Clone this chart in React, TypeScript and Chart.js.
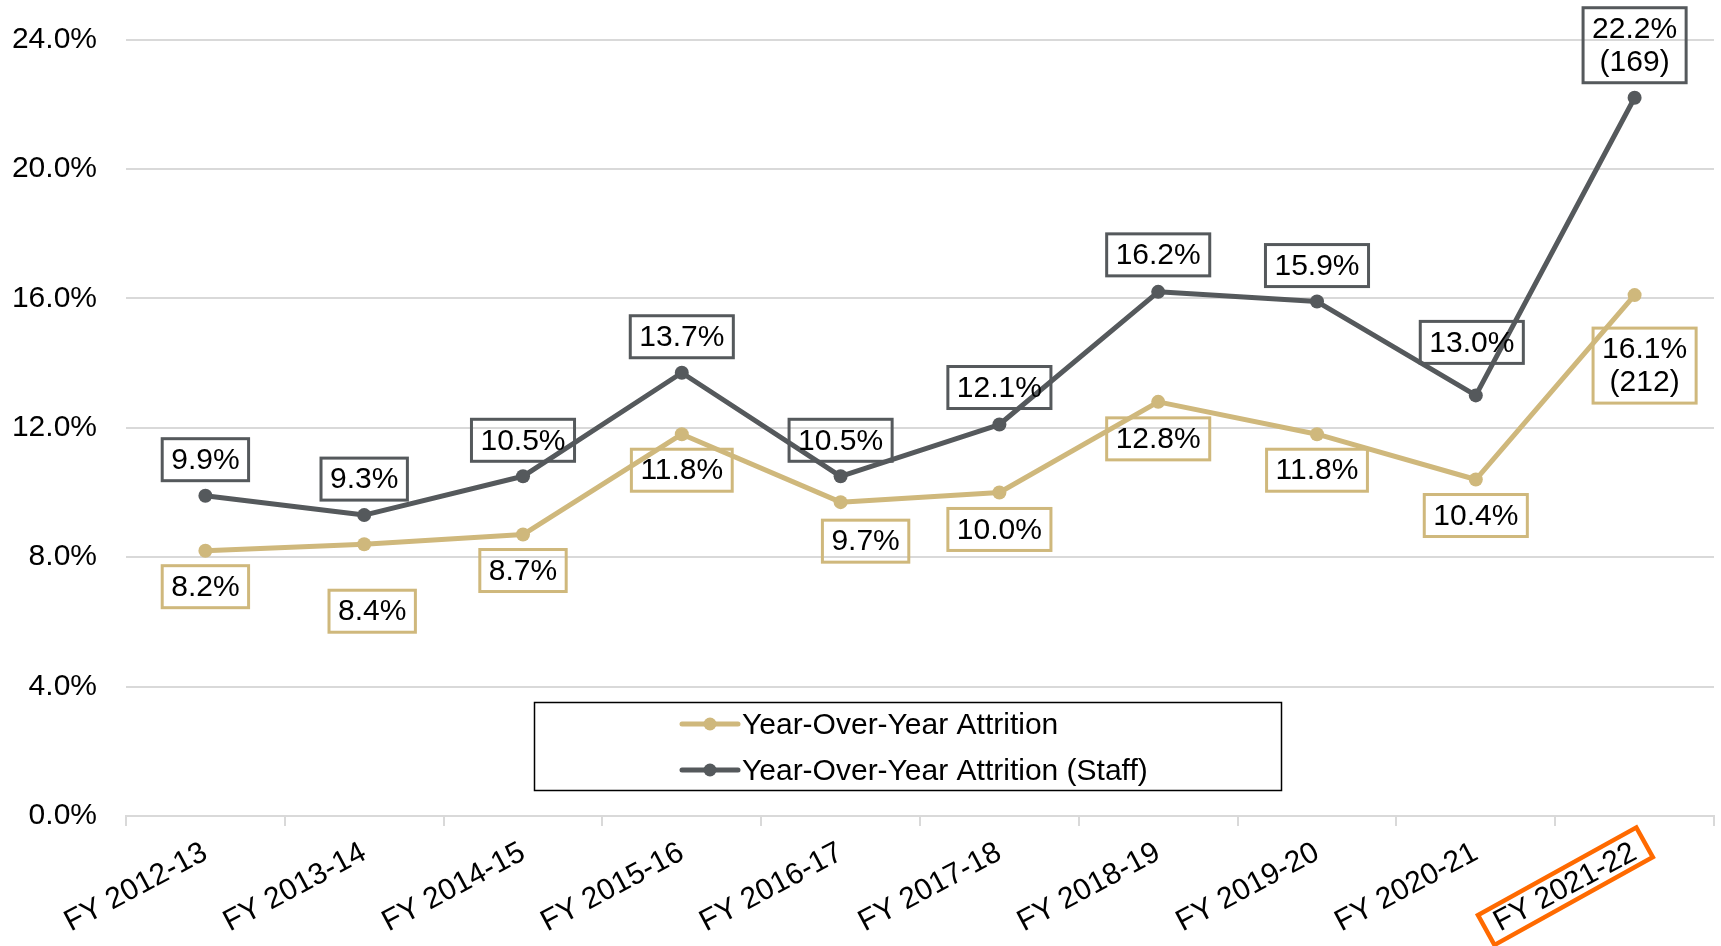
import React, { useEffect, useRef } from 'react';
import { Chart, registerables } from 'chart.js';

Chart.register(...registerables);

// ---------- data ----------
const categories = [
  'FY 2012-13', 'FY 2013-14', 'FY 2014-15', 'FY 2015-16', 'FY 2016-17',
  'FY 2017-18', 'FY 2018-19', 'FY 2019-20', 'FY 2020-21', 'FY 2021-22',
];
const attritionAll = [8.2, 8.4, 8.7, 11.8, 9.7, 10.0, 12.8, 11.8, 10.4, 16.1];
const attritionStaff = [9.9, 9.3, 10.5, 13.7, 10.5, 12.1, 16.2, 15.9, 13.0, 22.2];
const countsAll: (number | null)[] = [null, null, null, null, null, null, null, null, null, 212];
const countsStaff: (number | null)[] = [null, null, null, null, null, null, null, null, null, 169];
const yTickValues = [0, 4, 8, 12, 16, 20, 24];
const seriesNames = ['Year-Over-Year Attrition', 'Year-Over-Year Attrition (Staff)'];
const highlightedCategory = 'FY 2021-22';

// ---------- styles ----------
const GOLD = '#CFB87C';
const GRAY = '#55595C';
const ORANGE = '#FF6A00';
const FONT = '"Liberation Sans", Arial, Helvetica, sans-serif';
const FONT_SIZE = 30;
const X_ROTATION = 28;
const X_TICK_LEN = 10;
const X_TICK_PAD = 9;

// label placement nudges (dx, dy) per point, styling only
const labelStyles = [
  {
    place: 'below',
    border: GOLD,
    counts: countsAll,
    nudge: [[0, 0], [8, 31], [0, 0], [0, 0], [25, 3], [0, 1], [0, 1], [0, 0], [0, 0], [10, 18]],
  },
  {
    place: 'above',
    border: GRAY,
    counts: countsStaff,
    nudge: [[0, 0], [0, 0], [0, 0], [0, 0], [0, 0], [0, -1], [0, -1], [0, 0], [-4, -17], [0, 0]],
  },
];

const valueLabelPlugin = {
  id: 'valueLabels',
  afterDatasetsDraw(chart: any) {
    const ctx = chart.ctx;
    chart.data.datasets.forEach((ds: any, di: number) => {
      const meta = chart.getDatasetMeta(di);
      const st = labelStyles[di];
      meta.data.forEach((pt: any, i: number) => {
        const v = ds.data[i] as number;
        const lines = [v.toFixed(1) + '%'];
        if (st.counts[i] != null) lines.push('(' + st.counts[i] + ')');
        ctx.save();
        ctx.font = `${FONT_SIZE}px ${FONT}`;
        const tw = Math.max(...lines.map((l) => ctx.measureText(l).width));
        const lh = 33;
        const w = tw + 21;
        const h = 45 + (lines.length - 1) * lh;
        const [dx, dy] = st.nudge[i];
        const cx = pt.x + dx;
        const top = st.place === 'above' ? pt.y - 13.5 - h + dy : pt.y + 13.5 + dy;
        ctx.lineWidth = 3;
        ctx.strokeStyle = st.border;
        ctx.strokeRect(cx - w / 2 + 1.5, top + 1.5, w - 3, h - 3);
        ctx.fillStyle = '#000';
        ctx.textAlign = 'center';
        ctx.textBaseline = 'middle';
        const cy = top + h / 2;
        lines.forEach((l, k) => {
          ctx.fillText(l, cx, cy + (k - (lines.length - 1) / 2) * lh + 1);
        });
        ctx.restore();
      });
    });
  },
};

const legendPlugin = {
  id: 'boxLegend',
  afterDraw(chart: any) {
    const ctx = chart.ctx;
    const box = { x: 534.5, y: 702.5, w: 747, h: 88 };
    ctx.save();
    ctx.lineWidth = 1.5;
    ctx.strokeStyle = '#000';
    ctx.strokeRect(box.x, box.y, box.w, box.h);
    const mx0 = 682;
    const mx1 = 738;
    chart.data.datasets.forEach((ds: any, i: number) => {
      const y = 724 + i * 46;
      ctx.strokeStyle = ds.borderColor;
      ctx.lineWidth = 5;
      ctx.lineCap = 'round';
      ctx.beginPath();
      ctx.moveTo(mx0, y);
      ctx.lineTo(mx1, y);
      ctx.stroke();
      ctx.fillStyle = ds.borderColor;
      ctx.beginPath();
      ctx.arc((mx0 + mx1) / 2, y, 6.5, 0, Math.PI * 2);
      ctx.fill();
      ctx.fillStyle = '#000';
      ctx.font = `${FONT_SIZE}px ${FONT}`;
      ctx.textAlign = 'left';
      ctx.textBaseline = 'middle';
      ctx.fillText(ds.label, 742, y + 2);
    });
    ctx.restore();
  },
};

const highlightPlugin = {
  id: 'highlightTick',
  afterDraw(chart: any) {
    const xs = chart.scales.x;
    const idx = categories.indexOf(highlightedCategory);
    if (idx < 0) return;
    const ctx = chart.ctx;
    const rot = (X_ROTATION * Math.PI) / 180;
    const lineHeight = FONT_SIZE * 1.2;
    ctx.save();
    ctx.font = `${FONT_SIZE}px ${FONT}`;
    const tw = ctx.measureText(highlightedCategory).width;
    const ax = xs.getPixelForTick(idx) - (lineHeight / 2) * Math.sin(rot);
    const ay = xs.top + X_TICK_LEN + X_TICK_PAD;
    // text centre in screen coords
    const u = -tw / 2;
    const v = lineHeight / 2;
    const cx = ax + u * Math.cos(rot) + v * Math.sin(rot);
    const cy = ay - u * Math.sin(rot) + v * Math.cos(rot);
    ctx.translate(cx, cy - 1.5);
    ctx.rotate(-(29 * Math.PI) / 180);
    ctx.strokeStyle = ORANGE;
    ctx.lineWidth = 4.5;
    ctx.lineJoin = 'miter';
    ctx.strokeRect(-90.5, -17, 181, 34);
    ctx.restore();
  },
};

export default function App() {
  const ref = useRef<HTMLCanvasElement | null>(null);

  useEffect(() => {
    if (!ref.current) return;
    Chart.defaults.font.family = FONT;
    const chart = new Chart(ref.current, {
      type: 'line',
      data: {
        labels: categories,
        datasets: [
          {
            label: seriesNames[0],
            data: attritionAll,
            borderColor: GOLD,
            backgroundColor: GOLD,
            borderWidth: 5,
            pointRadius: 7,
            pointBorderWidth: 0,
            pointBackgroundColor: GOLD,
            borderJoinStyle: 'round',
            borderCapStyle: 'round',
            tension: 0,
          },
          {
            label: seriesNames[1],
            data: attritionStaff,
            borderColor: GRAY,
            backgroundColor: GRAY,
            borderWidth: 5,
            pointRadius: 7,
            pointBorderWidth: 0,
            pointBackgroundColor: GRAY,
            borderJoinStyle: 'round',
            borderCapStyle: 'round',
            tension: 0,
          },
        ],
      },
      options: {
        responsive: false,
        animation: false,
        devicePixelRatio: 1,
        layout: { padding: { top: 39.5, right: 5, bottom: 0, left: 0 } },
        plugins: {
          legend: { display: false },
          tooltip: { enabled: false },
        },
        scales: {
          x: {
            type: 'category',
            offset: true,
            grid: {
              offset: true,
              drawOnChartArea: false,
              drawTicks: true,
              tickLength: X_TICK_LEN,
              color: '#d9d9d9',
              lineWidth: 2,
            },
            border: { display: true, color: '#d9d9d9', width: 2 },
            ticks: {
              autoSkip: false,
              minRotation: X_ROTATION,
              maxRotation: X_ROTATION,
              padding: X_TICK_PAD,
              color: '#000',
              font: { size: FONT_SIZE, family: FONT },
            },
            afterFit: (s: any) => {
              s.height = 130;
              s.paddingLeft = 0;
              s.paddingRight = 0;
            },
          },
          y: {
            min: 0,
            max: 24,
            grid: { color: '#d9d9d9', lineWidth: 2, drawTicks: false },
            border: { display: false },
            ticks: {
              padding: 29,
              color: '#000',
              font: { size: FONT_SIZE, family: FONT },
              callback: (v: any) => Number(v).toFixed(1) + '%',
            },
            afterBuildTicks: (s: any) => {
              s.ticks = yTickValues.map((v) => ({ value: v }));
            },
            afterFit: (s: any) => {
              s.width = 126;
              s.paddingTop = 0;
              s.paddingBottom = 0;
            },
          },
        },
      },
      plugins: [valueLabelPlugin, legendPlugin, highlightPlugin],
    } as any);
    return () => chart.destroy();
  }, []);

  return (
    <div style={{ position: 'fixed', left: 0, top: 0, width: 1721, height: 946, background: '#fff', overflow: 'hidden' }}>
      <canvas ref={ref} width={1721} height={946} style={{ display: 'block' }} />
    </div>
  );
}
